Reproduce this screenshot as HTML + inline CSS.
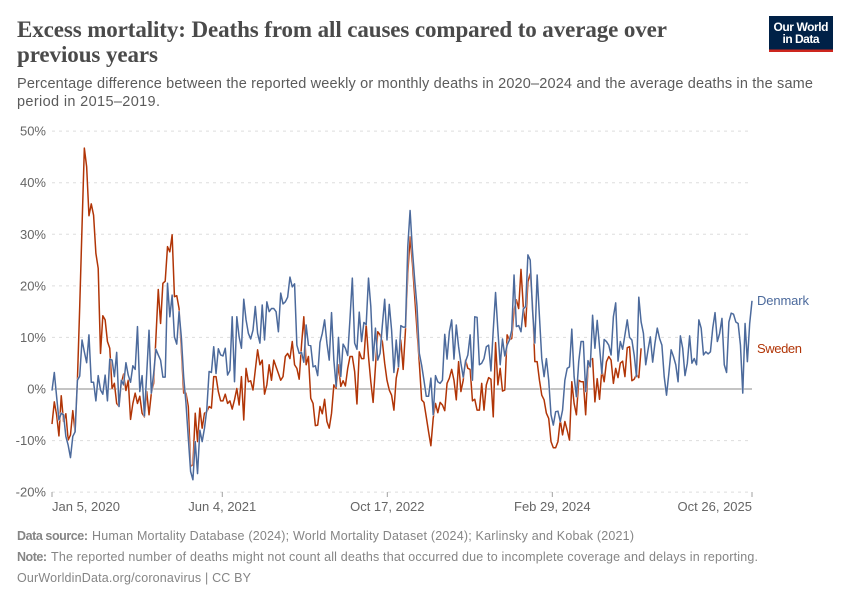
<!DOCTYPE html>
<html lang="en">
<head>
<meta charset="utf-8">
<title>Excess mortality</title>
<style>
html,body{margin:0;padding:0;background:#fff;width:850px;height:600px;overflow:hidden}
svg{display:block}
text{font-family:"Liberation Sans",sans-serif}
.serif{font-family:"Liberation Serif",serif;font-weight:700;font-size:23px;fill:#4a4a4a}
.sub{font-size:14.5px;fill:#5b5b5b}
.foot{font-size:12.5px;fill:#858585}
.tick{font-size:13px;fill:#666}
</style>
</head>
<body>
<svg id="chart" xmlns="http://www.w3.org/2000/svg" width="850" height="600" viewBox="0 0 850 600">
  <text class="serif" x="17" y="37" textLength="650" lengthAdjust="spacing">Excess mortality: Deaths from all causes compared to average over</text>
  <text class="serif" x="17" y="62" textLength="141" lengthAdjust="spacing">previous years</text>
  <text class="sub" x="17" y="88" textLength="796" lengthAdjust="spacing">Percentage difference between the reported weekly or monthly deaths in 2020–2024 and the average deaths in the same</text>
  <text class="sub" x="17" y="106" textLength="143" lengthAdjust="spacing">period in 2015–2019.</text>

  <g>
    <rect x="769" y="16" width="64" height="36" fill="#002147"/>
    <rect x="769" y="49.5" width="64" height="2.5" fill="#ce261e"/>
    <text x="801" y="31" text-anchor="middle" font-size="12" font-weight="700" fill="#fff" textLength="55" lengthAdjust="spacing">Our World</text>
    <text x="801" y="43" text-anchor="middle" font-size="12" font-weight="700" fill="#fff" textLength="37" lengthAdjust="spacing">in Data</text>
  </g>

  <g id="grid"></g>
  <g id="ylabels"></g>
  <g id="xaxis"></g>
  <g id="series"></g>

  <text x="757" y="305" font-size="13" fill="#4C6A9C" textLength="52" lengthAdjust="spacing">Denmark</text>
  <text x="757" y="353" font-size="13" fill="#B13507" textLength="45" lengthAdjust="spacing">Sweden</text>

  <text class="foot" x="17" y="540" font-weight="700" textLength="71" lengthAdjust="spacing">Data source:</text>
  <text class="foot" x="92" y="540" textLength="542" lengthAdjust="spacing">Human Mortality Database (2024); World Mortality Dataset (2024); Karlinsky and Kobak (2021)</text>
  <text class="foot" x="17" y="561" font-weight="700" textLength="30" lengthAdjust="spacing">Note:</text>
  <text class="foot" x="51" y="561" textLength="707" lengthAdjust="spacing">The reported number of deaths might not count all deaths that occurred due to incomplete coverage and delays in reporting.</text>
  <text class="foot" x="17" y="582" textLength="234" lengthAdjust="spacing">OurWorldinData.org/coronavirus | CC BY</text>
</svg>
<script>
const weeksTotal = 303;
const yTicks = [50, 40, 30, 20, 10, 0, -10, -20];
const xTickWeeks = [0, 73.71, 145.14, 216.57, 303];
const xTickLabels = ["Jan 5, 2020", "Jun 4, 2021", "Oct 17, 2022", "Feb 29, 2024", "Oct 26, 2025"];
const denmarkValues = [
-0.3,3.2,-1.5,-6,-4.7,-5,-9.2,-10.9,-13.3,-9.2,
-8.3,1.7,2.5,9.5,7.2,5.1,10.5,1.3,1.3,-2.3,
2.6,-0.2,-1,2.7,-2.3,5.8,5.6,2.4,7.1,-3.4,
1.7,0.8,5.1,2.7,1.3,4.5,3.8,12.1,-0.5,2.6,
-5.2,3,11.4,-0.8,3,7.7,6.6,5.6,2.3,2.3,
20.5,14,18.2,10.1,8.7,15,10,2.3,-2.8,-9.5,
-16,-17.6,-10.2,-16.4,-8,-10.2,-7.6,-4,3.4,3.2,
8.2,3,7.8,6.6,6.4,7.9,2.7,3.6,14,1.4,
14,10.1,7.9,17.4,13.4,10.8,9.7,11.4,16,10.8,
8.9,16.3,9.5,16.9,15,15.6,15.6,15,11.1,18.6,
16.5,16.9,17.8,21.7,19.8,20.4,8.5,6.9,7.1,5.2,
12.4,8.5,8.4,4.3,4.5,2.6,9,10.8,13.4,8.9,
5.6,14.8,5.6,0.5,10,2.4,8.7,7.9,6.5,13.7,
21.5,8.9,7.7,14.9,9.2,12.9,12.5,21.5,16,5.5,
11.8,5.6,6.9,12.4,17.4,9.5,16.4,11.4,3.2,9.5,
4.3,12.3,12,12,27.6,34.6,27,21.1,16,6.9,
4.6,1.7,-1.4,-1.4,2.1,-5,2.6,1.4,1.1,1.7,
10.6,5.8,11.1,13.4,5.8,12.4,8.2,5,2.3,5.3,
6.6,10.5,1.7,14,13.9,4.7,5,5.9,8.2,8.5,
3.5,11.4,18.7,11.4,4.7,9.7,6.4,8.5,9.5,11.4,
22.1,12.1,12.3,11.1,15.5,16,26,25,15.3,8.9,
22.1,14,5.9,2.4,5.9,1.7,-5,-7,-4.4,-4.3,
-6.3,-4.1,1.7,4,4.3,11.6,2.4,-1.5,5.3,9.2,
9.2,-0.5,5.5,4.3,14.3,7.9,13.3,8.2,3,9.6,
9.2,8.5,6.6,14,16.7,5.4,9.2,7.7,10.5,13.4,
10,9.5,6.6,2.4,17.8,13,10.8,4.7,7.6,10.1,
5.2,8.9,11.8,9.8,8.5,2.4,-1.2,3,7.6,6.3,
4.7,1.4,10.3,7.9,2.6,5,10.3,5,5.9,4.7,
13.4,11.8,6.6,7.2,6.8,7.2,11.8,14.8,9.2,10.8,
13.7,4.7,3.2,13,14.7,14.5,13,12.7,8.5,-0.8,
12.7,5.3,12.7,17.1
];
const swedenValues = [
-6.8,-2.5,-5,-9.1,-1.3,-6.3,-4.8,-9.9,-8.9,-4.2,
-8.3,1.7,16,31.5,46.7,43.1,33.6,35.9,33.7,26.3,
23.4,6.9,14.2,13.4,9.2,7.9,0.1,1.1,-2.8,-3.4,
1.1,2.9,-0.3,1.7,-5.9,-2.8,-0.8,-2.8,-1.4,-4.7,
-5.4,-0.5,-5,-0.8,1.1,10.1,19.3,12.7,20.5,20.9,
27.6,26.6,29.9,17.9,18.1,15.6,7.6,-0.8,-0.8,-3.4,
-15,-14.7,-4.7,-10.2,-3.7,-7.6,-4.7,-4.4,-3.4,-3.7,
2.4,2.4,-0.5,-2.3,-2.3,-1,-2.8,-2.3,-3.9,-2.1,
0.1,-3.1,2.4,-6,4,1.4,1.6,-0.2,3.7,7.6,
4.7,5.6,-1,0.8,4.7,1.7,5.6,4.3,3,1.7,
2.4,6.3,6.9,5.9,9.2,4.7,4,1.9,8.5,14,
4.7,6.3,-1.8,-2.8,-7.1,-7,-3.4,-4.8,-2,-6.3,
-7.6,-4.7,0.8,0.1,4.7,0.5,1.6,0.6,4,6.3,
6.3,3.4,-2.9,7.2,5.9,5.9,12.4,6.3,1.4,-2.6,
4.3,11.1,10.5,9.2,5,1.7,-0.2,-1.2,-4.1,2.1,
4.3,9.5,3.8,11.4,22.4,29.5,24.4,17.9,11.4,5,
-2.1,-2.6,-5.4,-8.3,-11,-5.7,-2.8,-4.6,-2.6,-3.1,
-4.2,1.1,2.1,3.8,1.7,-2.1,5.3,-0.5,1.7,5.6,
4,3.8,-2.3,-2,-4.1,-4.1,1.1,-4.1,0.8,2.2,
1.9,-5.4,9,0.8,4,-0.4,-0.2,10.5,9.5,9.8,
15.3,17.3,15.6,23.2,16,12.1,20.8,22.4,16.3,5.3,
5.3,1.7,-1.2,-2.1,-4.7,-5.7,-10.2,-11.4,-11.4,-10.2,
-6,-8.9,-6.3,-8,-9.9,1.4,-2.8,-5,1.7,1.4,
1.4,-5,4,5.6,5.9,-2.5,2,-2,3.7,1.4,
5.3,6.3,5.6,1.1,4,2.2,5,5.4,2.4,8,
8.2,1.6,1.9,2.8,2.2,7.9
];

const NS = "http://www.w3.org/2000/svg";
function xScale(week) { return 52 + week * (700 / weeksTotal); }
function yScale(v) { return 389 - v * (361 / 70); }
function make(tag, attrs, parent) {
  const el = document.createElementNS(NS, tag);
  for (const k in attrs) el.setAttribute(k, attrs[k]);
  parent.appendChild(el);
  return el;
}
function pathFor(values) {
  return values.map(function (v, i) {
    return (i ? "L" : "M") + xScale(i).toFixed(2) + " " + yScale(v).toFixed(2);
  }).join("");
}

const grid = document.getElementById("grid");
const ylabels = document.getElementById("ylabels");
yTicks.forEach(function (t) {
  const line = make("line", {
    x1: xScale(0), x2: xScale(weeksTotal), y1: yScale(t), y2: yScale(t),
    stroke: t === 0 ? "#a1a1a1" : "#dddddd",
    "stroke-width": t === 0 ? 1.2 : 1,
    "stroke-dasharray": t === 0 ? "none" : "3,4"
  }, grid);
  
  
  const label = make("text", { x: 46, y: yScale(t) + 4.5, "text-anchor": "end", "class": "tick" }, ylabels);
  label.textContent = t + "%";
  
  
});

const xaxis = document.getElementById("xaxis");
xTickWeeks.forEach(function (w, i) {
  const x = xScale(w);
  const tick = make("line", { x1: x, x2: x, y1: 492, y2: 497, stroke: "#a1a1a1", "stroke-width": 1 }, xaxis);
  
  
  const anchor = i === 0 ? "start" : (i === xTickWeeks.length - 1 ? "end" : "middle");
  const label = make("text", { x: x, y: 511, "text-anchor": anchor, "class": "tick" }, xaxis);
  label.textContent = xTickLabels[i];
  
  
});

const seriesGroup = document.getElementById("series");
const swedenHalo = make("path", { d: pathFor(swedenValues), fill: "none", stroke: "#fff", "stroke-width": 2.5, "stroke-linejoin": "round", opacity: 0.6 }, seriesGroup);


const swedenLine = make("path", { d: pathFor(swedenValues), fill: "none", stroke: "#B13507", "stroke-width": 1.5, "stroke-linejoin": "round" }, seriesGroup);


const denmarkHalo = make("path", { d: pathFor(denmarkValues), fill: "none", stroke: "#fff", "stroke-width": 2.5, "stroke-linejoin": "round", opacity: 0.6 }, seriesGroup);


const denmarkLine = make("path", { d: pathFor(denmarkValues), fill: "none", stroke: "#4C6A9C", "stroke-width": 1.5, "stroke-linejoin": "round" }, seriesGroup);


</script>
</body>
</html>
